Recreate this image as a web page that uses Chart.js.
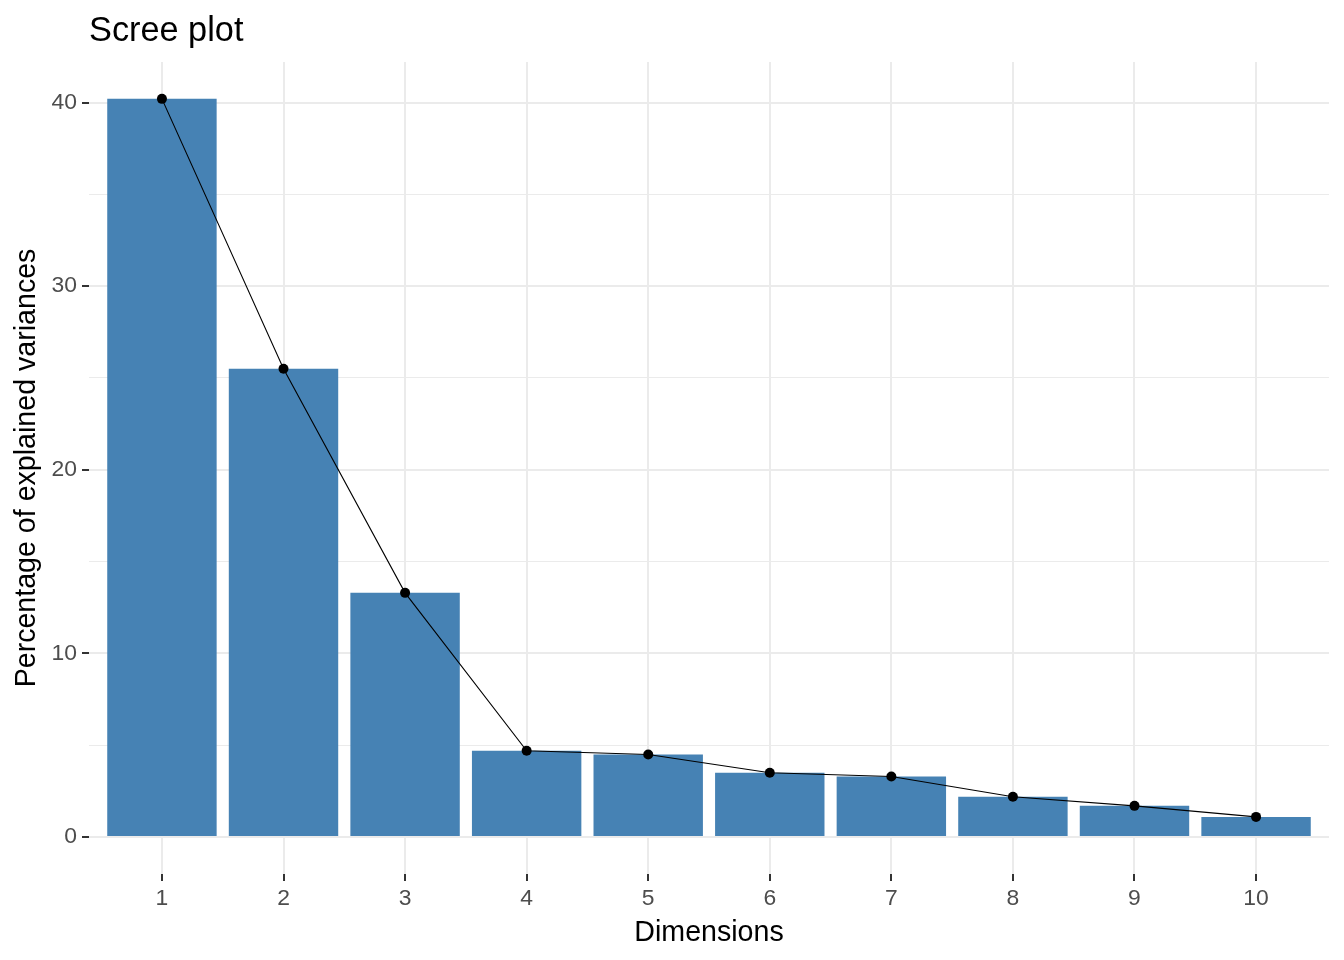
<!DOCTYPE html>
<html>
<head>
<meta charset="utf-8">
<title>Scree plot</title>
<script src="https://cdn.jsdelivr.net/npm/chart.js@4/dist/chart.umd.min.js"></script>
<style>
  body { margin: 0; background: #fff; }
  #screeChart { display: block; }
</style>
</head>
<body>
<canvas id="screeChart" width="1344" height="960"></canvas>
<script>
// scree values
const dimensions = [1, 2, 3, 4, 5, 6, 7, 8, 9, 10];
const variances = [40.2, 25.5, 13.3, 4.7, 4.5, 3.5, 3.3, 2.2, 1.7, 1.1];
const yTicks = [0, 5, 10, 15, 20, 25, 30, 35, 40];

const FONT = "'Liberation Sans', Arial, sans-serif";
const points = dimensions.map((d, i) => ({ x: d, y: variances[i] }));
const yMax = Math.max(...variances);

function isMajor(v) {
  return v % 10 === 0;
}

const ctx = document.getElementById('screeChart').getContext('2d');
new Chart(ctx, {
  type: 'bar',
  data: {
    datasets: [
      {
        type: 'line',
        data: points,
        borderColor: '#000',
        borderWidth: 1.1,
        pointRadius: 5,
        pointBackgroundColor: '#000',
        pointBorderWidth: 0,
        tension: 0,
        order: 0
      },
      {
        type: 'bar',
        data: points,
        backgroundColor: '#4682B4',
        borderWidth: 0,
        categoryPercentage: 1,
        barPercentage: 0.9,
        order: 1
      }
    ]
  },
  options: {
    responsive: false,
    animation: false,
    layout: { padding: { left: 10, right: 15, top: 0, bottom: 10 } },
    plugins: {
      legend: { display: false },
      tooltip: { enabled: false },
      title: {
        display: true,
        text: 'Scree plot',
        align: 'start',
        fullSize: false,
        color: '#000',
        font: { family: FONT, size: 34.3, weight: 'normal' },
        padding: { top: 11, bottom: 9.8 }
      }
    },
    scales: {
      x: {
        type: 'linear',
        min: 0.4,
        max: 10.6,
        offset: false,
        afterBuildTicks: axis => { axis.ticks = dimensions.map(v => ({ value: v })); },
        afterFit: axis => { axis.height = 960 - 874 - 10; },
        border: { display: false },
        grid: {
          offset: false,
          color: '#EBEBEB',
          lineWidth: 2,
          tickColor: '#333333',
          tickLength: 7,
          tickWidth: 2
        },
        ticks: {
          color: '#4D4D4D',
          font: { family: FONT, size: 22.9 },
          padding: 4,
          maxRotation: 0,
          callback: v => String(v)
        },
        title: {
          display: true,
          text: 'Dimensions',
          color: '#000',
          font: { family: FONT, size: 28.6 },
          padding: { top: 0, bottom: 0 }
        }
      },
      y: {
        min: -yMax * 0.05,
        max: yMax * 1.05,
        afterBuildTicks: axis => { axis.ticks = yTicks.map(v => ({ value: v })); },
        afterFit: axis => { axis.width = 79; },
        border: { display: false },
        grid: {
          color: '#EBEBEB',
          lineWidth: c => isMajor(c.tick.value) ? 2 : 1,
          tickColor: c => isMajor(c.tick.value) ? '#333333' : 'rgba(0,0,0,0)',
          tickLength: 7,
          tickWidth: 2
        },
        ticks: {
          color: '#4D4D4D',
          font: { family: FONT, size: 22.9 },
          padding: 5,
          callback: v => isMajor(v) ? String(v) : ''
        },
        title: {
          display: true,
          text: 'Percentage of explained variances',
          color: '#000',
          font: { family: FONT, size: 28.6 },
          padding: { top: 0, bottom: 0 }
        }
      }
    }
  }
});
</script>
</body>
</html>
